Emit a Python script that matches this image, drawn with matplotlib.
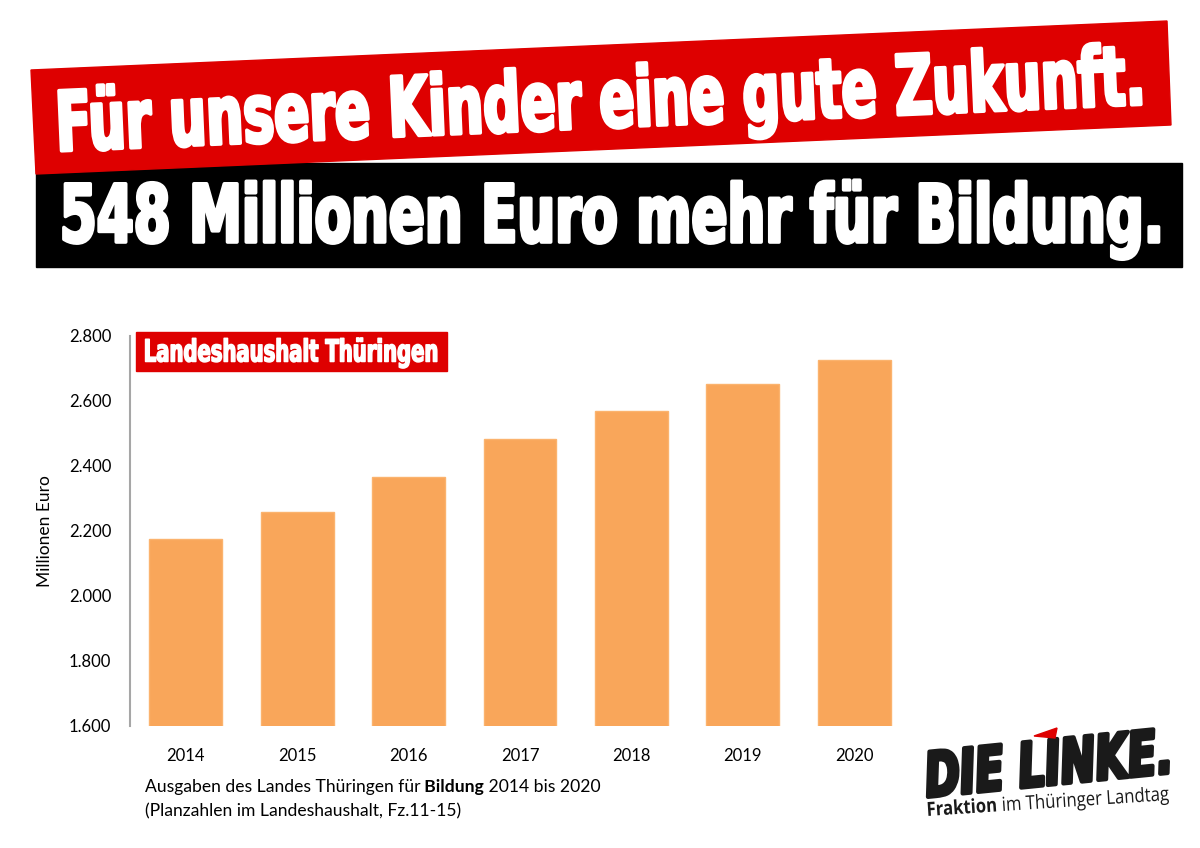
import matplotlib
matplotlib.use("Agg")
import numpy as np
import matplotlib.pyplot as plt
from matplotlib import patheffects
from matplotlib.patches import Polygon, Rectangle
from matplotlib.text import Text
from matplotlib.ticker import FuncFormatter
from matplotlib.transforms import Affine2D, Bbox

# Bildungsausgaben Thüringen, Planzahlen (Mio. Euro)
years = ['2014', '2015', '2016', '2017', '2018', '2019', '2020']
ausgaben = [2176, 2258, 2366, 2481, 2570, 2650, 2724]
y_ticks = [1600, 1800, 2000, 2200, 2400, 2600, 2800]

headline_1 = 'Für unsere Kinder eine gute Zukunft.'
headline_2 = '548 Millionen Euro mehr für Bildung.'
box_title = 'Landeshaushalt Thüringen'

RED = '#DE0000'
ORANGE = '#F9A65A'
W, H = 1200, 848
CAP = 0.729  # cap height of DejaVu Sans Bold, in em

fig = plt.figure(figsize=(12, 8.48), dpi=100)
renderer = fig.canvas.get_renderer()


def fx(px):
    return px / W


def fy(py):
    return 1 - py / H


class Stretch(patheffects.AbstractPathEffect):
    # scales the glyphs in the text's own frame, optional stroke makes them heavier
    def __init__(self, sx=1.0, sy=1.0, stroke=0.0):
        super().__init__()
        self.sx, self.sy, self.stroke = sx, sy, stroke

    def draw_path(self, renderer, gc, tpath, affine, rgbFace=None):
        tr = Affine2D().scale(self.sx, self.sy) + affine
        if self.stroke > 0:
            gc0 = renderer.new_gc()
            gc0.copy_properties(gc)
            gc0.set_linewidth(self.stroke)
            gc0.set_foreground(rgbFace)
            gc0.set_joinstyle('round')
            renderer.draw_path(gc0, tpath, tr, rgbFace)
            gc0.restore()
        else:
            renderer.draw_path(gc, tpath, tr, rgbFace)


class StretchedText(Text):
    # Text whose extent follows the scaled glyphs
    def __init__(self, *args, sx=1.0, sy=1.0, stroke=0.0, **kw):
        super().__init__(*args, **kw)
        self._sx, self._sy = sx, sy
        self.set_path_effects([Stretch(sx, sy, stroke)])

    def get_window_extent(self, renderer=None, dpi=None):
        rot = self.get_rotation()
        self.set_rotation(0)
        bb = super().get_window_extent(renderer, dpi)
        self.set_rotation(rot)
        ax0, ay0 = self.get_transform().transform(self.get_position())
        pts = np.array([[bb.x0, bb.y0], [bb.x1, bb.y0], [bb.x1, bb.y1], [bb.x0, bb.y1]])
        pts[:, 0] = (pts[:, 0] - ax0) * self._sx
        pts[:, 1] = (pts[:, 1] - ay0) * self._sy
        a = np.radians(rot)
        rx = pts[:, 0] * np.cos(a) - pts[:, 1] * np.sin(a) + ax0
        ry = pts[:, 0] * np.sin(a) + pts[:, 1] * np.cos(a) + ay0
        return Bbox.from_extents(rx.min(), ry.min(), rx.max(), ry.max())


def add_stretched(px, py, s, sx=1.0, sy=1.0, stroke=0.0, **kw):
    t = StretchedText(fx(px), fy(py), s, sx=sx, sy=sy, stroke=stroke, **kw)
    t.set_figure(fig)
    t.set_transform(fig.transFigure)
    fig.texts.append(t)
    t._remove_method = fig.texts.remove
    return t


def text_width(s, **kw):
    t = fig.text(0, 0, s, **kw)
    w = t.get_window_extent(renderer).width
    t.remove()
    return w


def fitted_text(x0, y0, x1, y1, s, cap_px, stroke=0.0, **kw):
    # left baseline (x0, y0) to right end (x1, y1), picture pixels;
    # the font size fits the width, the glyphs are stretched up to cap_px
    angle = np.degrees(np.arctan2(y0 - y1, x1 - x0))
    sw = stroke * 100 / 72
    length = np.hypot(x1 - x0, y1 - y0) - sw
    size = 20 * length / text_width(s, fontsize=20, **kw)
    sy = (cap_px - sw / 2) / (CAP * size * 100 / 72)
    return add_stretched(x0 + sw / 2, y0, s, 1.0, sy, stroke, fontsize=size,
                         rotation=angle, rotation_mode='anchor', ha='left',
                         va='baseline', **kw)


# --- header banners ---
fig.add_artist(Rectangle((fx(36), fy(267)), fx(1182) - fx(36), (267 - 163) / H,
                         transform=fig.transFigure, color='black', zorder=1))
red_corners = [(31, 70), (1167, 21), (1171, 125), (36, 174)]
fig.add_artist(Polygon([(fx(x), fy(y)) for x, y in red_corners], closed=True,
                       transform=fig.transFigure, color=RED, zorder=2))

head_font = dict(family='DejaVu Sans', weight='bold', color='white', zorder=3)
fitted_text(55, 151, 1148, 104, headline_1, 62, stroke=2.6, **head_font)
fitted_text(58, 242, 1167, 242, headline_2, 60, stroke=2.6, **head_font)

# --- bar chart ---
ax = fig.add_axes([fx(130), fy(726), (910 - 130) / W, (726 - 335.7) / H])
x = np.arange(len(years))
ax.bar(x, ausgaben, width=0.655, color=ORANGE, edgecolor='#FBB36E', linewidth=1)
ax.set_xlim(-0.5, len(years) - 0.5)
ax.set_ylim(1600, 2800)
ax.set_yticks(y_ticks)
ax.yaxis.set_major_formatter(FuncFormatter(lambda v, p: f'{v:,.0f}'.replace(',', '.')))
ax.set_xticks(x)
ax.set_xticklabels(years)

for side in ['top', 'right', 'bottom']:
    ax.spines[side].set_visible(False)
ax.spines['left'].set_color('#A6A6A6')
ax.spines['left'].set_linewidth(1.5)
ax.tick_params(axis='y', length=0, pad=13.5, labelsize=12, labelcolor='black')
ax.tick_params(axis='x', length=0, pad=16, labelsize=12, labelcolor='black')
for lab in ax.get_xticklabels() + ax.get_yticklabels():
    lab.set_family('Lato')

fig.text(fx(45), fy(531), 'Millionen Euro', rotation=90, ha='center', va='center',
         fontsize=12.5, family='Lato')

# red title box inside the chart
fig.add_artist(Rectangle((fx(136), fy(371)), fx(447) - fx(136), (371 - 332) / H,
                         transform=fig.transFigure, color=RED, zorder=3))
fitted_text(143, 361.5, 439, 361.5, box_title, 23, stroke=1.1, family='DejaVu Sans',
            weight='bold', color='white', zorder=4)

# caption below the chart
cap = dict(fontsize=12.6, family='Lato', va='bottom')
t1 = fig.text(fx(145), fy(795), 'Ausgaben des Landes Thüringen für', **cap)
t2 = ax.annotate(' Bildung', xycoords=t1, xy=(1, 0), weight='bold', **cap)
ax.annotate(' 2014 bis 2020', xycoords=t2, xy=(1, 0), **cap)
fig.text(fx(145), fy(819), '(Planzahlen im Landeshaushalt, Fz.11-15)', **cap)

# --- logo ---
fitted_text(925, 797, 1176, 772, 'DIE LINKE.', 47, stroke=3.0, family='DejaVu Sans',
            weight='bold', style='oblique', color='#1A1A1A')
flag = [(1034, 736), (1057, 728), (1055, 738)]
fig.add_artist(Polygon([(fx(px), fy(py)) for px, py in flag], closed=True,
                       transform=fig.transFigure, color=RED, zorder=5))

sub_bold, sub_rest = 'Fraktion', 'im Thüringer Landtag'
sub_kw = dict(family='Open Sans', color='#1A1A1A')
sx0, sy0, sx1, sy1 = 927, 816, 1170, 800
ang = np.arctan2(sy0 - sy1, sx1 - sx0)
length = np.hypot(sx1 - sx0, sy1 - sy0)
w_b = text_width(sub_bold, fontsize=14, weight='bold', **sub_kw)
w_sp = text_width('a a', fontsize=14, **sub_kw) - text_width('aa', fontsize=14, **sub_kw)
w_r = text_width(sub_rest, fontsize=14, **sub_kw)
k = length / (w_b + w_sp + w_r)
add_stretched(sx0, sy0, sub_bold, k, 1.0, fontsize=14, weight='bold',
              rotation=np.degrees(ang), rotation_mode='anchor', ha='left',
              va='baseline', **sub_kw)
d = (w_b + w_sp) * k
add_stretched(sx0 + d * np.cos(ang), sy0 - d * np.sin(ang), sub_rest, k, 1.0,
              fontsize=14, rotation=np.degrees(ang), rotation_mode='anchor', ha='left',
              va='baseline', **sub_kw)

fig.savefig('out.png', dpi=100, facecolor='white')
